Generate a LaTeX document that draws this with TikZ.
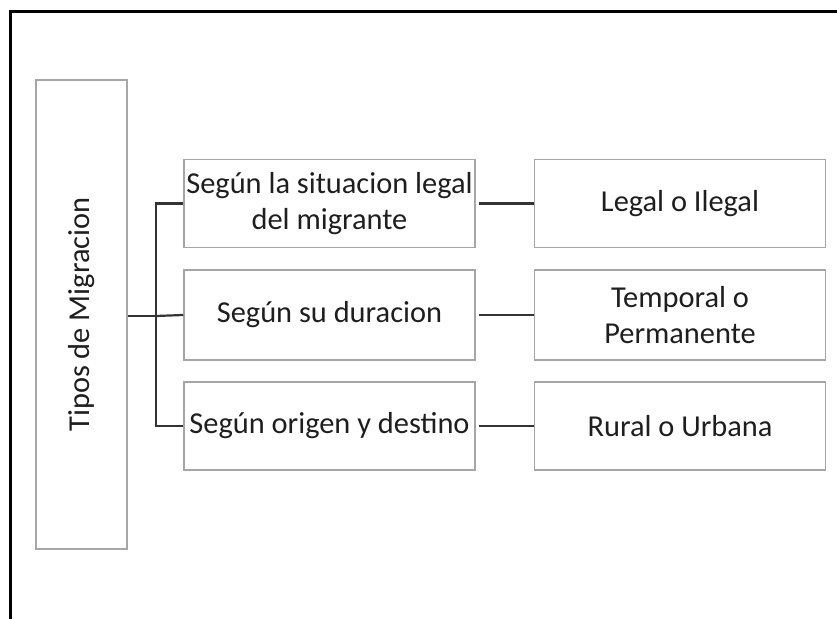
\documentclass[tikz,border=0pt]{standalone}
\usepackage{fontspec}
\setmainfont{Carlito}
\definecolor{boxgray}{HTML}{A6A6A6}
\definecolor{linegray}{HTML}{333333}
\definecolor{txt}{HTML}{1E1E1E}
\begin{document}
\begin{tikzpicture}[x=0.5pt,y=-0.5pt,
  box/.style={draw=boxgray,line width=0.75pt,inner sep=0pt,align=center,text=txt,
    font=\fontsize{15.2}{18}\selectfont},
  mid/.style={box,minimum width=145.5pt,minimum height=44pt},
  conn/.style={draw=linegray,line width=1.1pt}]
\useasboundingbox (0,0) rectangle (837,619);
\clip (0,0) rectangle (837,619);
\draw[line width=1.5pt,black] (10,12) rectangle (900,700);
% root
\node[box,minimum width=45.5pt,minimum height=234.5pt] (root) at (81.5,314.5) {};
\node[rotate=90,text=txt,font=\fontsize{15.2}{18}\selectfont] (roottxt) at (root.center) {Tipos de Migracion};
% middle
\node[mid] (m1) at (329.5,203.5) {Según la situacion legal\\del migrante};
\node[mid,minimum height=45pt] (m2) at (329.5,315) {Según su duracion};
\node[mid] (m3) at (329.5,426) {Según origen y destino};
% right
\node[mid] (r1) at (680,203.5) {Legal o Ilegal};
\node[mid,minimum height=45pt] (r2) at (680,315) {Temporal o\\Permanente};
\node[mid] (r3) at (680,426) {Rural o Urbana};
% connectors
\coordinate (j) at (156,316);
\draw[conn] (root.east |- j) -- (j);
\draw[conn] (m1.west) -| (j);
\draw[conn] (m3.west) -| (j);
\draw[conn] (j) -- (m2.west);
\draw[conn] ([xshift=1.5pt]m1.east) -- (r1.west);
\draw[conn] ([xshift=1.5pt]m2.east) -- (r2.west);
\draw[conn] ([xshift=1.5pt]m3.east) -- (r3.west);
\end{tikzpicture}
\end{document}
